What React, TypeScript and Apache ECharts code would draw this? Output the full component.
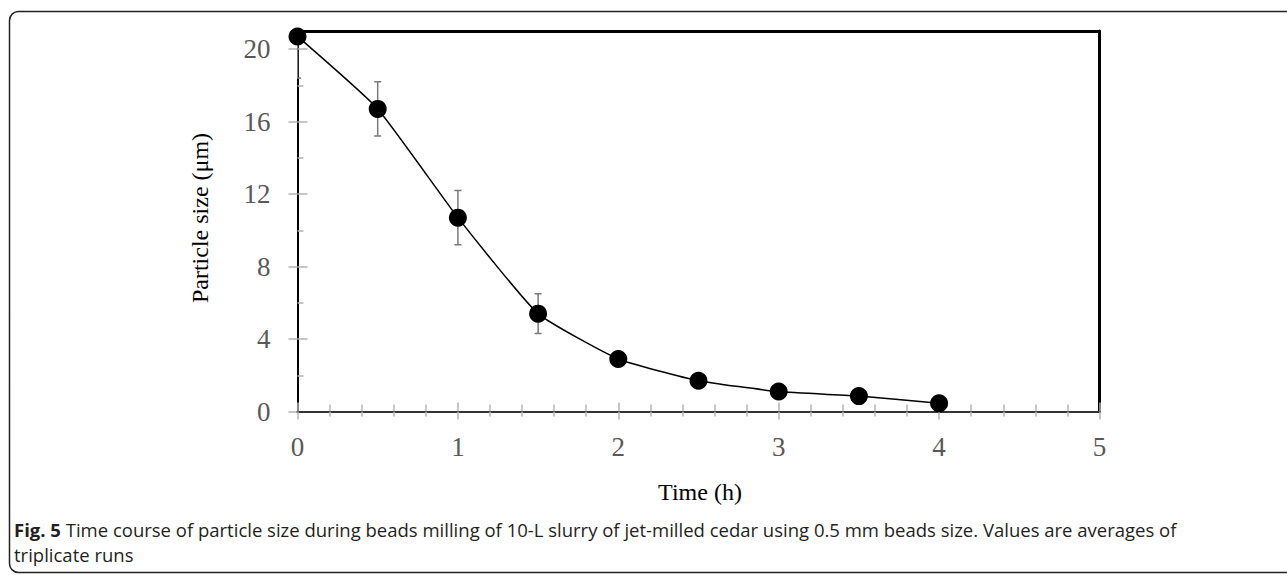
import React, { useEffect, useRef } from "react";
import * as echarts from "echarts";

const times = [0, 0.5, 1, 1.5, 2, 2.5, 3, 3.5, 4];
const particleSize = [20.7, 16.7, 10.7, 5.4, 2.9, 1.7, 1.1, 0.85, 0.45];
const errorSize = [2.3, 1.5, 1.5, 1.1, 0.3, 0.2, 0.15, 0.1, 0.1];
const yMajorTicks = [0, 4, 8, 12, 16, 20];
const yMinorTicks = [2, 6, 10, 14, 18];
const captionBold = "Fig. 5";
const captionLine1 =
  " Time course of particle size during beads milling of 10-L slurry of jet-milled cedar using 0.5 mm beads size. Values are averages of";
const captionLine2 = "triplicate runs";
const xTitle = "Time (h)";
const yTitle = "Particle size (\u03bcm)";

const SERIF = "'Liberation Serif', 'Times New Roman', serif";
const SANS = "'Open Sans', 'Noto Sans', sans-serif";
const TICK = "#b3b3b3";
const LABEL = "#595959";

export default function App() {
  const ref = useRef<HTMLDivElement>(null);
  useEffect(() => {
    if (!ref.current) return;
    const chart = echarts.init(ref.current, null, { renderer: "svg" });
    const lineData = times.map((t, i) => [t, particleSize[i]]);
    const errData = times.map((t, i) => [t, particleSize[i] - errorSize[i], particleSize[i] + errorSize[i]]);
    const baseX = { type: "value", min: 0, max: 5, interval: 1, gridIndex: 0, splitLine: { show: false } };
    const baseY = { type: "value", min: 0, max: 21, gridIndex: 0, splitLine: { show: false } };
    chart.setOption({
      animation: false,
      backgroundColor: "#fff",
      grid: { left: 297.5, right: 187.5, top: 31, bottom: 163.5, containLabel: false },
      xAxis: [
        {
          ...baseX,
          position: "bottom",
          axisLine: { show: true, onZero: false, lineStyle: { color: "#333", width: 2 } },
          axisTick: { show: true, length: 8, lineStyle: { color: TICK, width: 1.5 } },
          minorTick: { show: true, splitNumber: 5, length: 5, lineStyle: { color: TICK, width: 1.5 } },
          axisLabel: { fontSize: 27, color: LABEL, fontFamily: SERIF, margin: 22 },
          z: 3,
        },
        {
          ...baseX,
          position: "bottom",
          axisLine: { show: false },
          axisTick: { show: true, inside: true, length: 9, lineStyle: { color: TICK, width: 1.5 } },
          minorTick: { show: true, splitNumber: 5, length: 7, lineStyle: { color: TICK, width: 1.5 } },
          axisLabel: { show: false },
          z: 2,
        },
        {
          ...baseX,
          position: "top",
          axisLine: { show: true, onZero: false, lineStyle: { color: "#000", width: 3 } },
          axisTick: { show: false },
          axisLabel: { show: false },
        },
      ],
      yAxis: [
        {
          ...baseY,
          position: "left",
          axisLine: { show: true, onZero: false, lineStyle: { color: "#000", width: 2 } },
          axisTick: { show: true, customValues: yMajorTicks, length: 9, lineStyle: { color: TICK, width: 1.5 } },
          axisLabel: { customValues: yMajorTicks, fontSize: 27, color: LABEL, fontFamily: SERIF, margin: 27 },
        },
        {
          ...baseY,
          position: "left",
          axisLine: { show: false },
          axisTick: { show: true, inside: true, customValues: yMajorTicks, length: 10, lineStyle: { color: TICK, width: 1.5 } },
          axisLabel: { show: false },
        },
        {
          ...baseY,
          position: "left",
          axisLine: { show: false },
          axisTick: { show: true, inside: true, customValues: yMinorTicks, length: 6, lineStyle: { color: TICK, width: 1.5 } },
          axisLabel: { show: false },
        },
        {
          ...baseY,
          position: "right",
          axisLine: { show: true, onZero: false, lineStyle: { color: "#000", width: 3 } },
          axisTick: { show: false },
          axisLabel: { show: false },
        },
      ],
      series: [
        {
          type: "custom",
          xAxisIndex: 0,
          yAxisIndex: 0,
          clip: true,
          z: 1,
          data: errData,
          renderItem: (params: any, api: any) => {
            const x = api.value(0);
            const top = api.coord([x, api.value(2)]);
            const bot = api.coord([x, api.value(1)]);
            const w = 3.5;
            const style = { stroke: "#7a7a7a", lineWidth: 1.5 };
            return {
              type: "group",
              children: [
                { type: "line", shape: { x1: top[0], y1: top[1], x2: bot[0], y2: bot[1] }, style },
                { type: "line", shape: { x1: top[0] - w, y1: top[1], x2: top[0] + w, y2: top[1] }, style },
                { type: "line", shape: { x1: bot[0] - w, y1: bot[1], x2: bot[0] + w, y2: bot[1] }, style },
              ],
            };
          },
        },
        {
          type: "line",
          xAxisIndex: 0,
          yAxisIndex: 0,
          data: lineData,
          smooth: 0.15,
          clip: false,
          z: 5,
          symbol: "circle",
          symbolSize: 18,
          lineStyle: { color: "#000", width: 1.5 },
          itemStyle: { color: "#000" },
        },
      ],
      graphic: [
        {
          type: "rect",
          shape: { x: 9.5, y: 11.5, width: 1300, height: 561, r: 9 },
          style: { fill: "none", stroke: "#222", lineWidth: 1.5 },
          silent: true,
        },
        {
          type: "text",
          x: 700,
          y: 492,
          style: { text: xTitle, font: `24px ${SERIF}`, fill: "#000", align: "center", verticalAlign: "middle" },
        },
        {
          type: "text",
          x: 200,
          y: 218,
          rotation: Math.PI / 2,
          style: { text: yTitle, font: `24px ${SERIF}`, fill: "#000", align: "center", verticalAlign: "middle" },
        },
        {
          type: "text",
          x: 14,
          y: 529,
          style: {
            text: `{b|${captionBold}}${captionLine1}`,
            font: `18.5px ${SANS}`,
            fill: "#231f20",
            align: "left",
            verticalAlign: "middle",
            rich: { b: { fontWeight: "bold", fontSize: 18.5, fontFamily: SANS, fill: "#231f20" } },
          },
        },
        {
          type: "text",
          x: 14,
          y: 554,
          style: { text: captionLine2, font: `18.5px ${SANS}`, fill: "#231f20", align: "left", verticalAlign: "middle" },
        },
      ],
    });
    return () => chart.dispose();
  }, []);
  return <div ref={ref} style={{ position: "absolute", left: 0, top: 0, width: 1287, height: 575 }} />;
}
